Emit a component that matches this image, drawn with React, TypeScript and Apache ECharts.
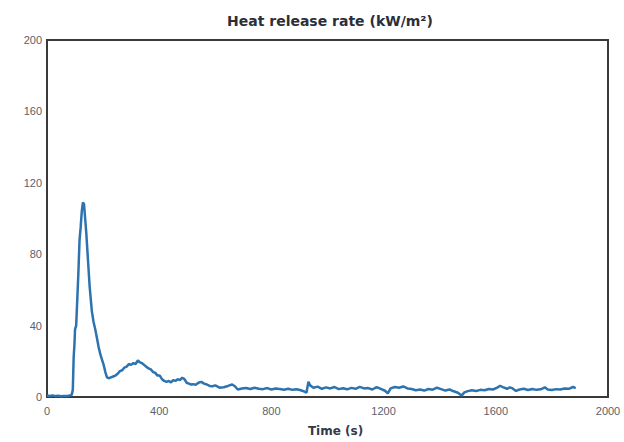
import { useEffect, useRef } from 'react';
import * as echarts from 'echarts';
import type { EChartsOption } from 'echarts';

// heat release rate: [time (s), HRR (kW/m²)]
const hrrPoints: [number, number][] = [
  [0, 0.8], [10, 0.6], [20, 0.9], [30, 0.5], [40, 0.7], [50, 0.4], [60, 0.6], [70, 0.5],
  [80, 0.8], [88, 1.2], [92, 4], [95, 22], [98, 30], [100, 38], [104, 40], [108, 55],
  [112, 70], [116, 88], [120, 95], [124, 104], [128, 109], [132, 108], [136, 100], [140, 92],
  [144, 82], [148, 72], [152, 62], [156, 55], [160, 48], [166, 42], [172, 38], [178, 33],
  [184, 28], [190, 24], [196, 21], [202, 18], [208, 14], [214, 11], [220, 10.5], [228, 11],
  [236, 11.5], [244, 12], [252, 13], [260, 14.5], [268, 15], [276, 16.5], [284, 17], [292, 18.5],
  [300, 18], [308, 19], [316, 18.5], [324, 20.5], [330, 19.5], [338, 19], [346, 18], [354, 17],
  [362, 16], [370, 15.5], [378, 14], [386, 13.5], [394, 12], [402, 12], [410, 10], [418, 9],
  [426, 8.5], [434, 9], [442, 8.2], [450, 9.5], [458, 9], [466, 10], [474, 9.5], [482, 10.8],
  [490, 10], [498, 8], [506, 7.5], [514, 7], [522, 7.2], [530, 6.8], [540, 8], [550, 8.5],
  [560, 7.5], [570, 7], [580, 6.2], [590, 6], [600, 6.5], [615, 5.2], [630, 5.5], [645, 6.2],
  [660, 7], [670, 6], [680, 4.2], [695, 4.8], [710, 5], [725, 4.5], [740, 5.2], [755, 4.6],
  [770, 4.4], [785, 5], [800, 4.2], [815, 4.8], [830, 4.5], [845, 4.1], [860, 4.6], [875, 4],
  [890, 4.3], [905, 3.8], [918, 3], [925, 2.4], [932, 8.5], [938, 6.5], [950, 5.2], [965, 5.8],
  [980, 4.6], [995, 5.4], [1010, 4.8], [1025, 5.6], [1040, 4.4], [1055, 4.9], [1070, 4.3], [1085, 5.1],
  [1100, 4.6], [1115, 5.7], [1130, 4.8], [1145, 5], [1160, 4.2], [1175, 5.5], [1190, 4.5], [1205, 3.5],
  [1215, 2], [1225, 4.8], [1240, 5.6], [1255, 5.2], [1270, 5.9], [1285, 4.8], [1300, 4.5], [1315, 3.8],
  [1330, 4.2], [1345, 3.6], [1360, 4.5], [1375, 4.1], [1390, 5.2], [1405, 4.4], [1420, 3.6], [1435, 4.2],
  [1450, 3.2], [1465, 2.4], [1478, 0.8], [1488, 2.6], [1500, 3.3], [1515, 3.8], [1530, 3.4], [1545, 4],
  [1560, 3.8], [1575, 4.5], [1590, 4.2], [1605, 5.2], [1615, 6.3], [1625, 5.5], [1640, 4.6], [1650, 5.4],
  [1660, 4.8], [1672, 3.4], [1685, 4.2], [1700, 4.6], [1715, 3.9], [1730, 4.5], [1745, 4], [1760, 4.3],
  [1775, 5.4], [1785, 4.2], [1800, 3.9], [1815, 4.4], [1830, 4.2], [1845, 4.8], [1860, 4.6], [1875, 5.6],
  [1885, 5.0],
];

const chartTitle = 'Heat release rate (kW/m²)';
const xAxisName = 'Time (s)';

const App = () => {
  const chartRef = useRef<HTMLDivElement>(null);

  useEffect(() => {
    if (!chartRef.current) return;
    const chart = echarts.init(chartRef.current, undefined, { renderer: 'svg' });

    const option: EChartsOption = {
      animation: false,
      backgroundColor: '#ffffff',
      title: {
        text: chartTitle,
        left: 222,
        top: 9,
        textStyle: {
          fontFamily: 'DejaVu Sans',
          fontSize: 14,
          fontWeight: 'bold',
          color: '#2b2f3a'
        }
      },
      grid: {
        left: 47,
        right: 16,
        top: 40,
        bottom: 44,
        show: true,
        borderColor: '#3a3a3a',
        borderWidth: 2,
        backgroundColor: 'transparent'
      },
      xAxis: {
        type: 'value',
        min: 0,
        max: 2000,
        interval: 400,
        name: xAxisName,
        nameLocation: 'middle',
        nameGap: 28,
        nameTextStyle: {
          fontFamily: 'DejaVu Sans',
          fontSize: 12,
          fontWeight: 'bold',
          color: '#333a4a',
          padding: [0, 0, 0, 16]
        },
        axisLine: { show: false },
        axisTick: { show: false },
        splitLine: { show: false },
        axisLabel: {
          margin: 8,
          fontFamily: 'Liberation Sans',
          fontSize: 11,
          color: '#5a5f6a',
          formatter: (v: number) => String(v)
        }
      },
      yAxis: {
        type: 'value',
        min: 0,
        max: 200,
        interval: 40,
        axisLine: { show: false },
        axisTick: { show: false },
        splitLine: { show: false },
        axisLabel: {
          margin: 5,
          fontFamily: 'Liberation Sans',
          fontSize: 11,
          color: '#5a5f6a',
          formatter: (v: number) => String(v)
        }
      },
      series: [
        {
          type: 'line',
          data: hrrPoints,
          symbol: 'none',
          lineStyle: { color: '#2c73b0', width: 2.5 },
          itemStyle: { color: '#2c73b0' }
        }
      ]
    };

    chart.setOption(option);
    return () => {
      chart.dispose();
    };
  }, []);

  return (
    <div
      ref={chartRef}
      style={{ position: 'fixed', left: 0, top: 0, width: 624, height: 442 }}
    />
  );
};

export default App;
